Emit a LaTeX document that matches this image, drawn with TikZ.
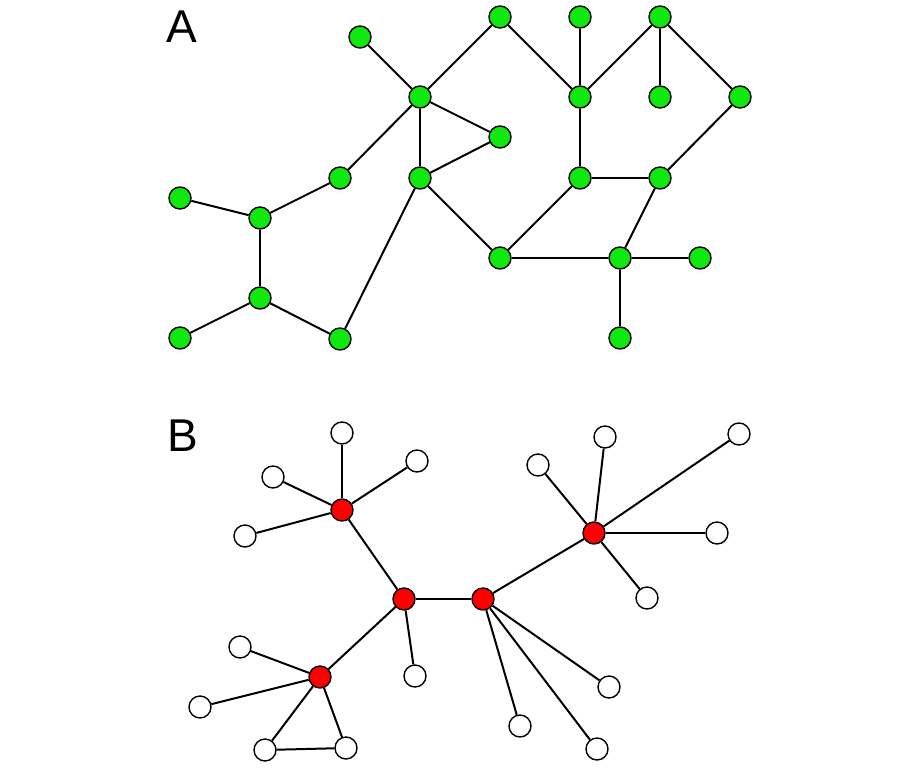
\documentclass[tikz,border=0pt]{standalone}
\usepackage{fontspec}
\setmainfont{Liberation Sans}
\definecolor{ngreen}{RGB}{16,232,16}
\begin{document}
\begin{tikzpicture}[x=1pt,y=-1pt,
  edge/.style={line width=2pt,black},
  gnode/.style={circle,draw=black,line width=1.4pt,fill=ngreen,minimum size=22pt,inner sep=0pt},
  rnode/.style={circle,draw=black,line width=1.4pt,fill=red,minimum size=22pt,inner sep=0pt},
  wnode/.style={circle,draw=black,line width=1.4pt,fill=white,minimum size=22pt,inner sep=0pt},
  lbl/.style={anchor=base west,inner sep=0pt,font=\fontsize{46}{46}\selectfont}]
\fill[white] (0,0) rectangle (920,768);
\useasboundingbox (0,0) rectangle (920,768);
\node[lbl] (la) at (166,42) {A};
\node[lbl] (lb) at (167,451) {B};
% Part A nodes
\node[gnode] (a1) at (360,37) {};
\node[gnode] (a2) at (420,97) {};
\node[gnode] (a3) at (500,17) {};
\node[gnode] (a4) at (500,137) {};
\node[gnode] (a5) at (340,178) {};
\node[gnode] (a6) at (420,178) {};
\node[gnode] (a7) at (180,198) {};
\node[gnode] (a8) at (260,218) {};
\node[gnode] (a9) at (260,298) {};
\node[gnode] (a10) at (180,338) {};
\node[gnode] (a11) at (340,339) {};
\node[gnode] (a12) at (500,258) {};
\node[gnode] (a13) at (580,17) {};
\node[gnode] (a14) at (660,17) {};
\node[gnode] (a15) at (580,97) {};
\node[gnode] (a16) at (660,97) {};
\node[gnode] (a17) at (740,97) {};
\node[gnode] (a18) at (580,178) {};
\node[gnode] (a19) at (660,178) {};
\node[gnode] (a20) at (620,258) {};
\node[gnode] (a21) at (700,258) {};
\node[gnode] (a22) at (620,338) {};
% Part B nodes
\node[rnode] (r1) at (342,510) {};
\node[rnode] (r2) at (404,599) {};
\node[rnode] (r3) at (483,599) {};
\node[rnode] (r4) at (320,677) {};
\node[rnode] (r5) at (594,533) {};
\node[wnode] (w1) at (342,433) {};
\node[wnode] (w2) at (417,461) {};
\node[wnode] (w3) at (273,477) {};
\node[wnode] (w4) at (245,536) {};
\node[wnode] (w5) at (415,676) {};
\node[wnode] (w6) at (240,647) {};
\node[wnode] (w7) at (200,707) {};
\node[wnode] (w8) at (265,750) {};
\node[wnode] (w9) at (346,748) {};
\node[wnode] (w10) at (605,437) {};
\node[wnode] (w11) at (538,465) {};
\node[wnode] (w12) at (739,434) {};
\node[wnode] (w13) at (717,533) {};
\node[wnode] (w14) at (647,598) {};
\node[wnode] (w15) at (609,687) {};
\node[wnode] (w16) at (520,726) {};
\node[wnode] (w17) at (597,749) {};
% edges
\foreach \u/\v in {a1/a2,a2/a3,a2/a4,a2/a6,a2/a5,a4/a6,a5/a8,a7/a8,a8/a9,a9/a10,a9/a11,a11/a6,a6/a12,a3/a15,a13/a15,a14/a15,a14/a16,a14/a17,a15/a18,a17/a19,a18/a19,a18/a12,a12/a20,a19/a20,a20/a21,a20/a22,
  r1/w1,r1/w2,r1/w3,r1/w4,r1/r2,r2/r3,r2/w5,r2/r4,r4/w6,r4/w7,r4/w8,r4/w9,w8/w9,r3/r5,r5/w10,r5/w11,r5/w12,r5/w13,r5/w14,r3/w15,r3/w16,r3/w17}
  \draw[edge] (\u) -- (\v);
\end{tikzpicture}
\end{document}
